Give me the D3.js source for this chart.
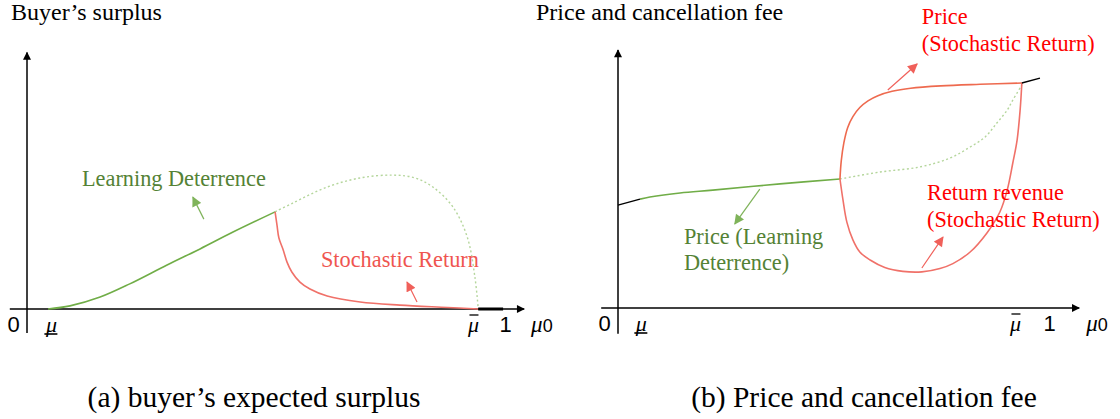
<html>
<script src="https://d3js.org/d3.v7.min.js"></script>
<style>
body { margin: 0; background: #fff; }
</style>
<body>
<svg width=1120 height=419></svg>
<script>
// (a) buyer's expected surplus, points are [mu0, value]
const surplusLearning = [[0.044,0],[0.090,0.012],[0.153,0.046],[0.215,0.097],[0.293,0.170],[0.362,0.232],[0.431,0.297],[0.519,0.375]];
const surplusLearningExt = [[0.519,0.375],[0.556,0.409],[0.628,0.471],[0.697,0.506],[0.766,0.517],[0.812,0.506],[0.849,0.471],[0.891,0.394],[0.921,0.278],[0.937,0.124],[0.944,0]];
const surplusStochastic = [[0.519,0.375],[0.523,0.324],[0.527,0.274],[0.536,0.228],[0.544,0.181],[0.554,0.143],[0.571,0.104],[0.592,0.077],[0.628,0.050],[0.697,0.027],[0.780,0.015],[0.880,0.006],[0.944,0]];

// (b) price and cancellation fee
const priceBase = [[0,0.399],[0.051,0.422]];
const priceLearning = [[0.051,0.422],[0.074,0.430],[0.144,0.446],[0.220,0.457],[0.376,0.481],[0.515,0.500]];
const priceLearningExt = [[0.515,0.500],[0.608,0.527],[0.701,0.547],[0.770,0.581],[0.817,0.624],[0.852,0.663],[0.879,0.717],[0.903,0.767],[0.916,0.806],[0.937,0.864]];
const priceStochastic = [[0.515,0.500],[0.518,0.570],[0.524,0.640],[0.533,0.700],[0.545,0.742],[0.561,0.777],[0.580,0.803],[0.603,0.823],[0.636,0.840],[0.679,0.852],[0.749,0.861],[0.840,0.867],[0.937,0.872]];
const returnRevenue = [[0.515,0.500],[0.522,0.419],[0.531,0.333],[0.545,0.264],[0.561,0.217],[0.585,0.186],[0.619,0.157],[0.661,0.142],[0.705,0.140],[0.747,0.153],[0.777,0.172],[0.817,0.217],[0.856,0.291],[0.886,0.372],[0.903,0.457],[0.916,0.562],[0.926,0.651],[0.933,0.767],[0.937,0.872]];
const priceTop = [[0.937,0.872],[0.979,0.891]];

// x labels
const xTickNames = ["0", "μ", "μ̄", "1"];
const xTicksA = [0, 0.050, 0.933, 1];
const xTicksB = [0, 0.053, 0.921, 1];

const serif = "Liberation Serif";
const sans = "Liberation Sans";

const svg = d3.select("svg");

svg.append("defs").append("marker")
  .attr("id", "axhead").attr("viewBox", "0 0 10 10")
  .attr("refX", 9).attr("refY", 5)
  .attr("markerWidth", 10).attr("markerHeight", 8)
  .attr("markerUnits", "userSpaceOnUse").attr("orient", "auto")
  .append("path").attr("d", "M0,0L10,5L0,10Z").attr("fill", "#000");

function head(id, color) {
  svg.select("defs").append("marker")
    .attr("id", id).attr("viewBox", "0 0 10 10")
    .attr("refX", 9).attr("refY", 5)
    .attr("markerWidth", 11).attr("markerHeight", 10)
    .attr("markerUnits", "userSpaceOnUse").attr("orient", "auto")
    .append("path").attr("d", "M0,0L10,5L0,10Z").attr("fill", color);
}
head("ghead", "#7fb35a");
head("rhead", "#f0605a");

const line = d3.line().curve(d3.curveCatmullRom.alpha(0.5));

function panel(cfg) {
  const x = d3.scaleLinear().domain([0, 1]).range(cfg.xr);
  const y = d3.scaleLinear().domain([0, 1]).range(cfg.yr);
  line.x(d => x(d[0])).y(d => y(d[1]));
  const g = svg.append("g");

  // axes
  g.append("line").attr("x1", x(cfg.xStart)).attr("x2", x(cfg.xEnd))
    .attr("y1", y(0)).attr("y2", y(0))
    .attr("stroke", "#000").attr("stroke-width", 1.5).attr("marker-end", "url(#axhead)");
  g.append("line").attr("x1", x(0)).attr("x2", x(0))
    .attr("y1", y(cfg.yStart)).attr("y2", y(cfg.yEnd))
    .attr("stroke", "#000").attr("stroke-width", 1.5).attr("marker-end", "url(#axhead)");

  // curves
  cfg.series.forEach(s => {
    g.append("path").datum(s.data).attr("d", line)
      .attr("fill", "none").attr("stroke", s.color)
      .attr("stroke-width", s.w || 1.6)
      .attr("stroke-dasharray", s.dash || null);
  });

  // tick labels
  const ax = d3.axisBottom(x).tickValues(cfg.ticks).tickSize(0)
    .tickFormat((d, i) => i == 2 ? "μ" : xTickNames[i]);
  const ag = g.append("g").attr("transform", `translate(0,${y(0)})`).call(ax);
  ag.select(".domain").remove();
  ag.attr("font-family", null).attr("font-size", null);
  ag.selectAll("text")
    .attr("y", 23).attr("dy", 0).attr("fill", "#000")
    .attr("font-size", 22)
    .attr("font-family", (d, i) => (i == 1 || i == 2) ? serif : sans)
    .attr("font-style", (d, i) => (i == 1 || i == 2) ? "italic" : "normal")
    .attr("dx", (d, i) => i == 0 ? -14 : 0);
  // underline for mu, bar over mu bar
  ag.selectAll(".tick").each(function (d, i) {
    if (i == 1) d3.select(this).append("line").attr("x1", -7).attr("x2", 6)
      .attr("y1", 25).attr("y2", 25).attr("stroke", "#000").attr("stroke-width", 1.6);
    if (i == 2) d3.select(this).append("line").attr("x1", -4).attr("x2", 5)
      .attr("y1", 6).attr("y2", 6).attr("stroke", "#000").attr("stroke-width", 1.3);
  });

  const ml = g.append("text").attr("x", x(cfg.xEnd) + 7).attr("y", y(0) + 23)
    .attr("font-family", serif).attr("font-size", 23);
  ml.append("tspan").text("μ").attr("font-style", "italic");
  ml.append("tspan").text("0").attr("font-family", sans).attr("font-size", 18);

  // annotations
  cfg.notes.forEach(n => {
    g.append("text").attr("x", x(n.at[0])).attr("y", y(n.at[1]))
      .attr("fill", n.color).attr("font-family", serif).attr("font-size", 22.3).text(n.text);
  });
  cfg.arrows.forEach(a => {
    g.append("line").attr("x1", x(a.from[0])).attr("y1", y(a.from[1]))
      .attr("x2", x(a.to[0])).attr("y2", y(a.to[1]))
      .attr("stroke", a.color).attr("stroke-width", 1.2)
      .attr("marker-end", `url(#${a.head})`);
  });
  return { x, y, g };
}

const green = "#70ad47", greenDot = "#b5d69c", red = "#f07169";

const a = panel({
  xr: [27, 505], yr: [309, 50], xStart: -0.036, xEnd: 1.04, yStart: -0.093, yEnd: 0.99,
  ticks: xTicksA,
  series: [
    { data: surplusLearningExt, color: greenDot, dash: "2,2.5", w: 1.4 },
    { data: surplusLearning, color: green },
    { data: surplusStochastic, color: red }
  ],
  notes: [
    { text: "Learning Deterrence", at: [0.115, 0.475], color: "#548235" },
    { text: "Stochastic Return", at: [0.615, 0.162], color: "#ef5550" }
  ],
  arrows: [
    { from: [0.370, 0.347], to: [0.347, 0.432], color: "#7fb35a", head: "ghead" },
    { from: [0.816, 0.027], to: [0.795, 0.104], color: "#f0605a", head: "rhead" }
  ]
});
// thick black piece of the axis between mu bar and 1
a.g.append("line").attr("x1", a.x(0.944)).attr("x2", a.x(0.996))
  .attr("y1", a.y(0)).attr("y2", a.y(0)).attr("stroke", "#000").attr("stroke-width", 3);

panel({
  xr: [618, 1049], yr: [308, 50], xStart: -0.039, xEnd: 1.07, yStart: -0.1, yEnd: 1.0,
  ticks: xTicksB,
  series: [
    { data: priceLearningExt, color: greenDot, dash: "2,2.5", w: 1.4 },
    { data: priceBase, color: "#000", w: 1.4 },
    { data: priceLearning, color: green },
    { data: priceStochastic, color: "#ee6a4f" },
    { data: returnRevenue, color: red },
    { data: priceTop, color: "#000", w: 1.4 }
  ],
  notes: [
    { text: "Price", at: [0.705, 1.101], color: "#ff0000" },
    { text: "(Stochastic Return)", at: [0.705, 0.996], color: "#ff0000" },
    { text: "Return revenue", at: [0.717, 0.419], color: "#ff0000" },
    { text: "(Stochastic Return)", at: [0.717, 0.314], color: "#ff0000" },
    { text: "Price (Learning", at: [0.153, 0.248], color: "#548235" },
    { text: "Deterrence)", at: [0.153, 0.147], color: "#548235" }
  ],
  arrows: [
    { from: [0.329, 0.461], to: [0.271, 0.326], color: "#7fb35a", head: "ghead" },
    { from: [0.626, 0.845], to: [0.694, 0.946], color: "#f0605a", head: "rhead" },
    { from: [0.705, 0.155], to: [0.754, 0.275], color: "#f0605a", head: "rhead" }
  ]
});

// titles and captions
svg.append("text").attr("x", 11).attr("y", 20).attr("font-family", serif).attr("font-size", 24).text("Buyer’s surplus");
svg.append("text").attr("x", 536).attr("y", 20).attr("font-family", serif).attr("font-size", 24).text("Price and cancellation fee");
svg.append("text").attr("x", 254).attr("y", 407).attr("text-anchor", "middle")
  .attr("font-family", serif).attr("font-size", 29.5).text("(a) buyer’s expected surplus");
svg.append("text").attr("x", 864).attr("y", 407).attr("text-anchor", "middle")
  .attr("font-family", serif).attr("font-size", 29.5).text("(b) Price and cancellation fee");
</script>
</body>
</html>
